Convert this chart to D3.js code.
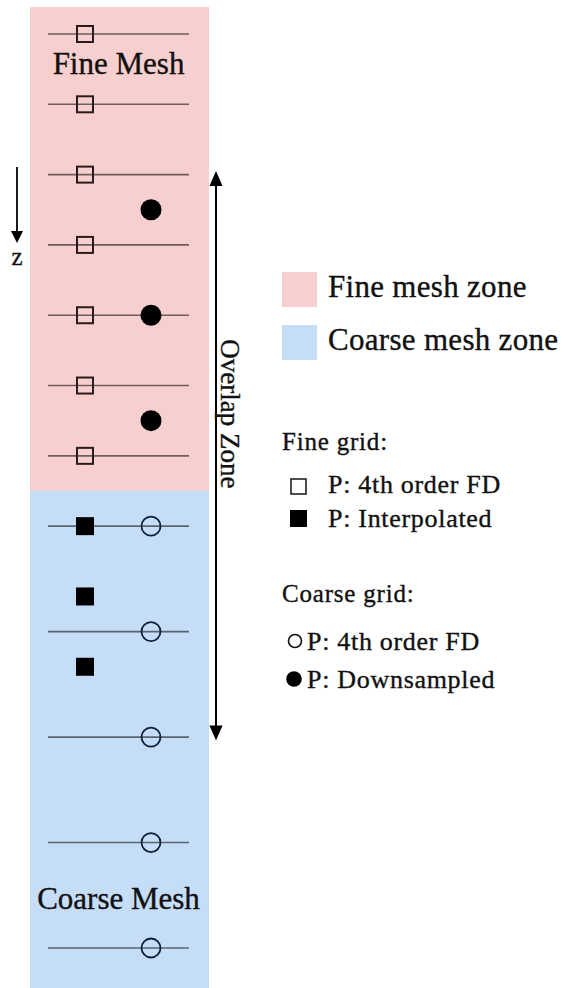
<!DOCTYPE html>
<html>
<head>
<meta charset="utf-8">
<script src="https://cdn.jsdelivr.net/npm/d3@7"></script>
<style>
  html, body { margin: 0; padding: 0; background: #ffffff; }
  svg { display: block; }
  text { font-family: "Liberation Serif", "Times New Roman", serif; fill: #111; stroke: #111; stroke-width: 0.35px; }
</style>
</head>
<body>
<svg id="chart" width="561" height="988"></svg>
<script>
// ---------------- data (depth index z: fine spacing 2, coarse spacing 3) ----------------
const zones = [
  { name: "Fine mesh zone",   from: -0.77, to: 13,   color: "#f8cfcf" },
  { name: "Coarse mesh zone", from: 13,    to: 27.3, color: "#c6ddf8" }
];
const fineFD        = [0, 2, 4, 6, 8, 10, 12];   // hollow squares (fine grid, 4th order FD)
const fineInterp    = [14, 16, 18];              // filled squares (fine grid, interpolated)
const coarseFD      = [14, 17, 20, 23, 26];      // hollow circles (coarse grid, 4th order FD)
const coarseDown    = [5, 8, 11];                // filled circles (coarse grid, downsampled)
const gridLines     = [0, 2, 4, 6, 8, 10, 12, 14, 17, 20, 23, 26];
const overlapRange  = [3.9, 20.1];
const meshLabels    = [ { text: "Fine Mesh", z: 1.14 }, { text: "Coarse Mesh", z: 24.9 } ];
const columns       = ["fine", "coarse"];
const legendZones   = ["Fine mesh zone", "Coarse mesh zone"];
const legendFine    = ["P: 4th order FD", "P: Interpolated"];
const legendCoarse  = ["P: 4th order FD", "P: Downsampled"];

// ---------------- scales ----------------
const svg = d3.select("#chart");
const y = d3.scaleLinear().domain([0, 26]).range([34, 948]);
const x = d3.scalePoint().domain(columns).range([85, 151]);
const colLeft = 30, colRight = 209, lineLeft = 48, lineRight = 189;

// zones
svg.append("g").selectAll("rect").data(zones).join("rect")
  .attr("x", colLeft).attr("width", colRight - colLeft)
  .attr("y", d => y(d.from)).attr("height", d => y(d.to) - y(d.from))
  .attr("fill", d => d.color);

// grid lines
svg.append("g").selectAll("line").data(gridLines).join("line")
  .attr("x1", lineLeft).attr("x2", lineRight)
  .attr("y1", d => y(d)).attr("y2", d => y(d))
  .attr("stroke", "#000").attr("stroke-opacity", 0.55).attr("stroke-width", 1.6);

// fine grid squares
const sq = 16;
svg.append("g").selectAll("rect").data(fineFD).join("rect")
  .attr("x", x("fine") - sq / 2).attr("y", d => y(d) - sq / 2)
  .attr("width", sq).attr("height", sq)
  .attr("fill", "none").attr("stroke", "#2a1c1c").attr("stroke-width", 2);
svg.append("g").selectAll("rect").data(fineInterp).join("rect")
  .attr("x", x("fine") - (sq + 2) / 2).attr("y", d => y(d) - (sq + 2) / 2)
  .attr("width", sq + 2).attr("height", sq + 2)
  .attr("fill", "#000");

// coarse grid circles
svg.append("g").selectAll("circle").data(coarseFD).join("circle")
  .attr("cx", x("coarse")).attr("cy", d => y(d)).attr("r", 9.5)
  .attr("fill", "none").attr("stroke", "#10203a").attr("stroke-width", 1.8);
svg.append("g").selectAll("circle").data(coarseDown).join("circle")
  .attr("cx", x("coarse")).attr("cy", d => y(d)).attr("r", 10.5)
  .attr("fill", "#000");

// mesh labels
svg.append("g").selectAll("text").data(meshLabels).join("text")
  .attr("x", (colLeft + colRight) / 2 - 1).attr("y", d => y(d.z))
  .attr("text-anchor", "middle").attr("font-size", 31)
  .text(d => d.text);

// arrow head helper
function head(g, xc, yt, dir, len, w) {
  g.append("path")
    .attr("d", `M${xc},${yt} L${xc - w / 2},${yt - dir * len} L${xc + w / 2},${yt - dir * len} Z`)
    .attr("fill", "#000");
}

// overlap arrow
const ov = svg.append("g");
const ax = 216;
ov.append("line").attr("x1", ax).attr("x2", ax)
  .attr("y1", y(overlapRange[0]) + 10).attr("y2", y(overlapRange[1]) - 10)
  .attr("stroke", "#000").attr("stroke-width", 2);
head(ov, ax, y(overlapRange[0]), -1, 15, 13);
head(ov, ax, y(overlapRange[1]), 1, 15, 13);
ov.append("text")
  .attr("transform", `translate(221,${(y(overlapRange[0]) + y(overlapRange[1])) / 2 - 42}) rotate(90)`)
  .attr("text-anchor", "middle").attr("font-size", 27)
  .text("Overlap Zone");

// z arrow
const za = svg.append("g");
za.append("line").attr("x1", 17).attr("x2", 17).attr("y1", 167).attr("y2", 234)
  .attr("stroke", "#000").attr("stroke-width", 1.8);
head(za, 17, 243, 1, 12, 12);
za.append("text").attr("x", 17).attr("y", 265).attr("text-anchor", "middle")
  .attr("font-size", 25).text("z");

// ---------------- legend ----------------
const lg = svg.append("g");
lg.selectAll("rect").data(legendZones).join("rect")
  .attr("x", 282).attr("y", (d, i) => 272 + i * 53)
  .attr("width", 35).attr("height", 35)
  .attr("fill", d => zones.find(z => z.name === d).color);
lg.selectAll("text.zone").data(legendZones).join("text").attr("class", "zone")
  .attr("x", 328).attr("y", (d, i) => 297 + i * 53)
  .attr("font-size", 31).attr("letter-spacing", 0.3).text(d => d);

lg.append("text").attr("x", 282).attr("y", 450).attr("font-size", 25)
  .attr("letter-spacing", 0.8).text("Fine grid:");
lg.selectAll("text.fine").data(legendFine).join("text").attr("class", "fine")
  .attr("x", 328).attr("y", (d, i) => 493 + i * 34)
  .attr("font-size", 26).attr("letter-spacing", 0.7).text(d => d);
lg.append("rect").attr("x", 291).attr("y", 479).attr("width", 15).attr("height", 15)
  .attr("fill", "none").attr("stroke", "#222").attr("stroke-width", 1.6);
lg.append("rect").attr("x", 290).attr("y", 510).attr("width", 17).attr("height", 17)
  .attr("fill", "#000");

lg.append("text").attr("x", 282).attr("y", 602).attr("font-size", 25)
  .attr("letter-spacing", 0.8).text("Coarse grid:");
lg.selectAll("text.coarse").data(legendCoarse).join("text").attr("class", "coarse")
  .attr("x", 307).attr("y", (d, i) => 650 + i * 38)
  .attr("font-size", 26).attr("letter-spacing", 0.7).text(d => d);
lg.append("circle").attr("cx", 295).attr("cy", 641).attr("r", 6.5)
  .attr("fill", "none").attr("stroke", "#111").attr("stroke-width", 1.6);
lg.append("circle").attr("cx", 294).attr("cy", 679).attr("r", 7.8)
  .attr("fill", "#000");
</script>
</body>
</html>
